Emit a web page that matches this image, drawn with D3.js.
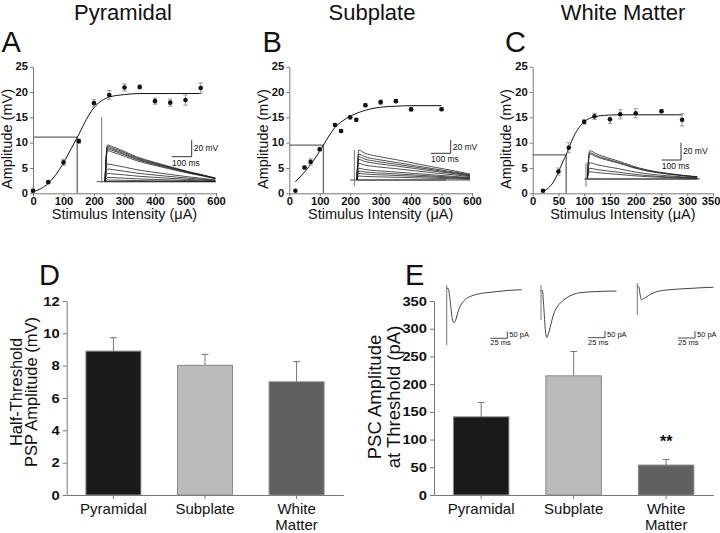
<!DOCTYPE html>
<html><head><meta charset="utf-8">
<script src="https://cdn.jsdelivr.net/npm/d3@7"></script>
<style>body{margin:0;background:#fff}svg{display:block}text{font-family:"Liberation Sans",Arial,sans-serif}</style>
</head><body>
<script>
// ---------- DATA ----------
const stimA = [0,50,100,150,200,250,300,350,400,450,500,550];
const ampA  = [0.5,2.2,6.1,10.3,17.8,19.4,20.9,21.0,18.2,17.9,18.4,20.8];
const semA  = [0.3,0.2,0.6,0.4,0.7,0.9,0.7,0.4,0.6,0.7,1.0,1.0];
const fitXA = [0,25,50,75,100,125,150,175,200,225,250,300,350,450,550];
const fitYA = [0.3,0.9,2.0,3.7,6.0,8.8,11.6,14.6,16.9,18.3,19.0,19.5,19.7,19.7,19.7];
const halfA = [145,11.1];

const stimB = [20,50,70,100,150,170,200,220,250,300,350,400,500];
const ampB  = [0.5,5.1,6.2,8.7,13.5,12.3,15.0,14.5,17.4,18.0,18.2,16.6,16.6];
const semB  = [0.1,0.3,0.6,0.4,0.3,0.3,0.3,0.3,0.3,0.4,0.3,0.4,0.3];
const fitXB = [20,50,80,112,130,150,175,200,250,300,350,400,500];
const fitYB = [2.3,4.2,6.5,9.5,11.3,13.0,14.3,15.2,16.4,17.0,17.2,17.3,17.3];
const halfB = [112,9.5];

const stimC = [20,50,70,100,120,150,170,200,250,290];
const ampC  = [0.5,4.3,9.0,14.1,15.2,14.6,15.6,15.8,16.2,14.5];
const semC  = [0.2,0.7,1.0,0.4,0.6,0.8,0.9,0.9,0.3,1.2];
const fitXC = [20,30,40,50,60,65,70,80,90,100,110,120,140,170,290];
const fitYC = [0.4,1.0,2.2,4.2,6.6,7.6,8.9,11.3,13.0,14.1,14.8,15.1,15.4,15.5,15.5];
const halfC = [65,7.6];

// inset EPSP traces: normalized shape (ms, fraction) and peak amplitudes (mV)
const shapeTA = [0,5,12,40,100,160,250,330,420,500,560];
const shapeFA = [0,0.6,1,0.95,0.82,0.68,0.53,0.41,0.28,0.18,0.1];
const epspAmpA = [44,42.3,40.7,39.2,37.1,21.2,15.2,9.9,5.1,2.0,0];
const shapeTB = [0,5,10,40,100,200,300,400,500,575];
const shapeFB = [0,0.6,1,0.9,0.8,0.68,0.55,0.42,0.3,0.2];
const epspAmpB = [45,39,35,31,25,17.6,13.5,10,6,0];
const shapeTC = [0,5,12,50,100,155,230,310,415,570];
const shapeFC = [0,0.6,1,0.88,0.76,0.65,0.47,0.32,0.2,0.08];
const epspAmpC = [32.7,30.4,28.9,18.8,12.4,8.4,0];

const groups = ["Pyramidal","Subplate","White Matter"];
const pspHalf = [8.9,8.02,7.0];
const pspErr  = [0.83,0.68,1.25];
const pscThr  = [141,215,54];
const pscErr  = [26,44,10];

// PSC example traces (ms, pA)
const pscT1 = [0,2,5,8,10.7,13,16,19.6,24,29.4,36,44,58,73.5,90,110];
const pscI1 = [0,0,-90,-220,-257,-240,-185,-137,-100,-75,-58,-45,-33,-25,-16,-10];
const pscT2 = [0,2,4,6.5,8.4,11,15.7,19,23,30,37.8,47,57,80,111];
const pscI2 = [0,0,-120,-300,-350,-320,-229,-170,-129,-85,-54,-30,-17,-8,-4];
const pscT3 = [0,2,4.5,6.5,9,13.8,20,28.5,45,63,90,112];
const pscI3 = [0,0,-70,-99,-90,-75,-55,-37,-24,-17,-9,-4];

// ---------- DRAW ----------
const svg = d3.select("body").append("svg").attr("width",720).attr("height",533);
svg.append("rect").attr("width",720).attr("height",533).attr("fill","#fff");
const AX = "#777";

function txt(g, x, y, s, size, opt={}) {
  const t = g.append("text").attr("x",x).attr("y",y).text(s)
    .attr("font-size",size).attr("fill",opt.fill||"#111")
    .attr("text-anchor",opt.anchor||"start");
  if (opt.bold) t.attr("font-weight","bold");
  if (opt.rot) t.attr("transform",`rotate(-90,${x},${y})`);
  return t;
}
function styleAxis(a, fs) {
  a.select(".domain").attr("stroke",AX);
  a.selectAll(".tick line").attr("stroke",AX);
  a.selectAll(".tick text").attr("font-size",fs).attr("font-weight","bold")
   .attr("fill","#111").attr("font-family","Liberation Sans, Arial, sans-serif");
}

function curvePanel(p) {
  const g = svg.append("g");
  const x = d3.scaleLinear().domain([0,p.xmax]).range([p.left,p.right]);
  const y = d3.scaleLinear().domain([0,25]).range([193.3,66.7]);
  const ax = g.append("g").attr("transform","translate(0,193.3)")
    .call(d3.axisBottom(x).tickValues(d3.range(0,p.xmax+1,p.xstep)).tickSize(3).tickSizeOuter(0).tickPadding(2));
  styleAxis(ax,10);
  ax.selectAll(".tick text").attr("transform","scale(1.12,1)").attr("x",0);
  // keep the last label inside the picture when the axis reaches the edge
  ax.selectAll(".tick text").filter(d=>x(d)+12>720).attr("text-anchor","end").attr("x",(720-x(p.xmax))/1.12);
  const ay = g.append("g").attr("transform",`translate(${p.left},0)`)
    .call(d3.axisLeft(y).tickValues([0,5,10,15,20,25]).tickSize(3).tickSizeOuter(0).tickPadding(2));
  styleAxis(ay,10);
  ay.selectAll(".tick text").attr("transform","scale(1.12,1)").attr("x",-5/1.12);
  // half-threshold lines
  g.append("path").attr("d",`M${x(0)},${y(p.half[1])}H${x(p.half[0])}V${y(0)}`)
    .attr("fill","none").attr("stroke","#666").attr("stroke-width",1.3);
  // fit
  const pts = p.fx.map((v,i)=>[v,p.fy[i]]);
  g.append("path").attr("d",d3.line().x(d=>x(d[0])).y(d=>y(d[1])).curve(d3.curveMonotoneX)(pts))
    .attr("fill","none").attr("stroke","#111").attr("stroke-width",1);
  // error bars & points
  p.sx.forEach((s,i)=>{
    const cx=x(s), v=p.sy[i], e=p.se[i];
    if (e>0.15) {
      g.append("line").attr("x1",cx).attr("x2",cx).attr("y1",y(v-e)).attr("y2",y(v+e)).attr("stroke","#999");
      [v-e,v+e].forEach(w=>g.append("line").attr("x1",cx-2.2).attr("x2",cx+2.2).attr("y1",y(w)).attr("y2",y(w)).attr("stroke","#999"));
    }
    g.append("circle").attr("cx",cx).attr("cy",y(v)).attr("r",2.3).attr("fill","#111");
  });
  // inset
  const ins = p.inset;
  const tx = d3.scaleLinear().domain([0,100]).range([ins.x0, ins.x0+ins.msPx]);
  const ty = d3.scaleLinear().domain([0,20]).range([ins.base, ins.base-ins.mvPx]);
  g.append("line").attr("x1",ins.bx0).attr("x2",ins.bx1).attr("y1",ins.base).attr("y2",ins.base).attr("stroke","#222").attr("stroke-width",0.8);
  g.append("line").attr("x1",ins.ax).attr("x2",ins.ax).attr("y1",ins.a0).attr("y2",ins.a1).attr("stroke","#666").attr("stroke-width",0.9);
  ins.amps.forEach(a=>{
    const pp = ins.st.map((t,i)=>[t, a*ins.sf[i]]);
    g.append("path").attr("d",d3.line().x(d=>tx(d[0])).y(d=>ty(d[1])).curve(d3.curveMonotoneX)(pp))
      .attr("fill","none").attr("stroke","#222").attr("stroke-width",0.8);
  });
  // scale bar
  const cx=ins.sbx, cy=ins.sby;
  g.append("path").attr("d",`M${cx-ins.msPx},${cy}H${cx}V${cy-ins.mvPx}`).attr("fill","none").attr("stroke","#333").attr("stroke-width",1);
  txt(g,cx+2,cy-ins.mvPx/2+3,"20 mV",8.5);
  txt(g,cx-ins.msPx,cy+9,"100 ms",8.5);
  // labels
  txt(g,p.tcx,20,p.title,22,{anchor:"middle"});
  txt(g,p.lx,51.7,p.letter,29);
  txt(g,p.ytx,139,"Amplitude (mV)",14.5,{anchor:"middle",rot:true});
  txt(g,(p.left+p.right)/2,219,"Stimulus Intensity (μA)",14.5,{anchor:"middle"});
}

curvePanel({left:33,right:216,xmax:600,xstep:100,sx:stimA,sy:ampA,se:semA,fx:fitXA,fy:fitYA,half:halfA,
  title:"Pyramidal",tcx:123,letter:"A",lx:1.5,ytx:12,
  inset:{x0:105,base:181.7,msPx:19.7,mvPx:16.7,bx0:96.7,bx1:216,ax:101.7,a0:117,a1:182.7,
         st:shapeTA,sf:shapeFA,amps:epspAmpA,sbx:191.7,sby:156.7}});
curvePanel({left:289.3,right:472,xmax:600,xstep:100,sx:stimB,sy:ampB,se:semB,fx:fitXB,fy:fitYB,half:halfB,
  title:"Subplate",tcx:372,letter:"B",lx:262.5,ytx:268,
  inset:{x0:356.7,base:180,msPx:19.7,mvPx:13.3,bx0:350,bx1:446,ax:354.3,a0:150,a1:186,
         st:shapeTB,sf:shapeFB,amps:epspAmpB,sbx:450.7,sby:153.3}});
curvePanel({left:532.7,right:713,xmax:350,xstep:50,sx:stimC,sy:ampC,se:semC,fx:fitXC,fy:fitYC,half:halfC,
  title:"White Matter",tcx:623,letter:"C",lx:505,ytx:511,
  inset:{x0:587.3,base:179,msPx:19.3,mvPx:17.3,bx0:584,bx1:700,ax:586,a0:162.7,a1:186.7,
         st:shapeTC,sf:shapeFC,amps:epspAmpC,sbx:681,sby:160}});

const barFill = ["#1a1a1a","#bbbbbb","#606060"];
function barPanel(p) {
  const g = svg.append("g");
  const x = d3.scaleBand().domain(groups).range([p.left,p.right]).paddingInner(0.4).paddingOuter(0.21);
  const y = d3.scaleLinear().domain([0,p.ymax]).range([495,301]);
  const ay = g.append("g").attr("transform",`translate(${p.left},0)`)
    .call(d3.axisLeft(y).tickValues(d3.range(0,p.ymax+1,p.ystep)).tickSize(4).tickSizeOuter(0).tickPadding(2));
  styleAxis(ay,12.5);
  ay.selectAll(".tick text").attr("transform","scale(1.18,1)").attr("x",-7/1.18);
  const ax = g.append("g").attr("transform","translate(0,495)")
    .call(d3.axisBottom(x).tickSize(4).tickSizeOuter(0).tickFormat(""));
  styleAxis(ax,12);
  groups.forEach((k,i)=>{
    const bx=x(k), bw=x.bandwidth(), cx=bx+bw/2;
    g.append("line").attr("x1",cx).attr("x2",cx).attr("y1",y(p.v[i])).attr("y2",y(p.v[i]+p.e[i])).attr("stroke","#777");
    g.append("line").attr("x1",cx-3.5).attr("x2",cx+3.5).attr("y1",y(p.v[i]+p.e[i])).attr("y2",y(p.v[i]+p.e[i])).attr("stroke","#777");
    g.append("rect").attr("x",bx).attr("y",y(p.v[i])).attr("width",bw).attr("height",y(0)-y(p.v[i]))
      .attr("fill",barFill[i]).attr("stroke","#888").attr("stroke-width",1);
    const parts = k.split(" ");
    parts.forEach((s,j)=>txt(g,cx,514.3+j*16,s,15,{anchor:"middle"}));
  });
  txt(g,p.lx,285,p.letter,29);
  p.ylab.forEach((s,j)=>txt(g,p.ylx[j],p.yly,s,p.yfs,{anchor:"middle",rot:true}));
  return {g,x,y};
}
barPanel({left:66.7,right:343.3,ymax:12,ystep:2,v:pspHalf,e:pspErr,letter:"D",lx:39,
  ylab:["Half-Threshold","PSP Amplitude (mV)"],ylx:[22,37],yly:392,yfs:16.5});
const E = barPanel({left:434,right:713.3,ymax:350,ystep:50,v:pscThr,e:pscErr,letter:"E",lx:405,
  ylab:["PSC Amplitude","at Threshold (pA)"],ylx:[381,399.5],yly:397,yfs:18.5});
txt(E.g,E.x("White Matter")+E.x.bandwidth()/2,447,"**",16,{anchor:"middle",bold:true});

// PSC insets
const pscSets = [
  {t:pscT1,i:pscI1,x0:446.7,base:288.3,a0:285,a1:345,sbx:507.3,sby:338.3},
  {t:pscT2,i:pscI2,x0:541,base:290.5,a0:285,a1:320,sbx:605,sby:337.7},
  {t:pscT3,i:pscI3,x0:637.3,base:286.7,a0:283.3,a1:315,sbx:695,sby:338}
];
pscSets.forEach(s=>{
  const tx = d3.scaleLinear().domain([0,25]).range([s.x0,s.x0+17]);
  const ty = d3.scaleLinear().domain([0,-50]).range([s.base,s.base+6.7]);
  svg.append("line").attr("x1",s.x0).attr("x2",s.x0).attr("y1",s.a0).attr("y2",s.a1).attr("stroke","#666").attr("stroke-width",0.9);
  const pp = s.t.map((t,k)=>[t,s.i[k]]);
  svg.append("path").attr("d",d3.line().x(d=>tx(d[0])).y(d=>ty(d[1])).curve(d3.curveMonotoneX)(pp))
    .attr("fill","none").attr("stroke","#444").attr("stroke-width",1);
  svg.append("path").attr("d",`M${s.sbx-17},${s.sby}H${s.sbx}V${s.sby-6.7}`).attr("fill","none").attr("stroke","#333").attr("stroke-width",0.9);
  txt(svg,s.sbx+2,s.sby-1,"50 pA",7.5);
  txt(svg,s.sbx-17,s.sby+7,"25 ms",7.5);
});
</script>
</body></html>
